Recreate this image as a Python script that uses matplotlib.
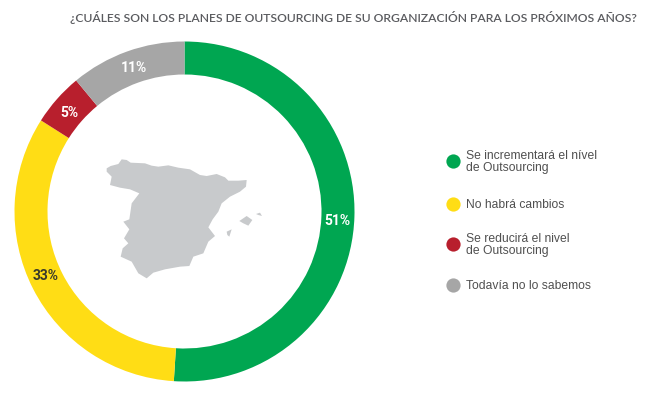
import matplotlib
matplotlib.use("Agg")
import matplotlib.pyplot as plt
from matplotlib.patches import Polygon

title = "¿CUÁLES SON LOS PLANES DE OUTSOURCING DE SU ORGANIZACIÓN PARA LOS PRÓXIMOS AÑOS?"
categories = ["Se incrementará el nível\nde Outsourcing", "No habrá cambios",
              "Se reducirá el nivel\nde Outsourcing", "Todavía no lo sabemos"]
values = [51, 33, 5, 11]
colors = ["#00A651", "#FFDD15", "#B81F2D", "#A6A6A6"]
label_colors = ["white", "#3a3a2a", "white", "white"]
label_nudge = [(0, 5), (-3, -5), (0, 3), (1, 0)]
legend_y = [161, 203.5, 244, 285]

# decorative map outline, in pixels of the zoomed reference
mainland = [(50,85),(62,78),(85,72),(95,58),(110,60),(122,68),(165,70),(185,77),(205,80),(235,76),
            (265,83),(300,88),(330,105),(350,108),(380,102),(405,112),(415,122),(445,122),(470,120),
            (468,140),(450,155),(420,170),(395,190),(385,215),(368,238),(355,262),(375,288),(355,305),
            (340,340),(310,350),(298,378),(270,380),(225,388),(190,398),(170,415),(145,400),(125,365),
            (92,350),(98,325),(115,310),(102,295),(118,268),(100,245),(118,238),(125,190),(148,160),
            (120,148),(90,143),(60,135),(65,110),(50,95)]
mallorca = [(448,243),(470,228),(487,240),(475,257),(460,250)]
menorca = [(498,222),(510,218),(516,228),(505,225)]
ibiza = [(410,275),(425,268),(418,290),(412,285)]

W, H = 666, 395

fig = plt.figure(figsize=(W/100, H/100), dpi=100, facecolor="white")

# overlay in pixel coordinates
ov = fig.add_axes([0, 0, 1, 1])
ov.set_xlim(0, W); ov.set_ylim(H, 0); ov.axis("off")

# ring
cx, cy, R = 184.5, 211.5, 170
ax = fig.add_axes([(cx-R)/W, 1-(cy+R)/H, 2*R/W, 2*R/H])
wedges, _, autotexts = ax.pie(values, colors=colors, startangle=90, counterclock=False, radius=1,
                              wedgeprops=dict(width=33/170, linewidth=0),
                              autopct=lambda p: f"{round(p)}%", pctdistance=0.9)
ax.set_xlim(-1, 1); ax.set_ylim(-1, 1)
for t, c, (dx, dy) in zip(autotexts, label_colors, label_nudge):
    t.set_color(c); t.set_fontfamily("Roboto"); t.set_fontsize(10); t.set_fontweight("bold")
    x, y = t.get_position()
    t.set_position((x + dx/R, y - dy/R))

# map
for poly in (mainland, mallorca, menorca, ibiza):
    pts = [(90 + x/3, 140 + y/3) for x, y in poly]
    ov.add_patch(Polygon(pts, closed=True, facecolor="#C8CACC", edgecolor="none"))

ov.text(70, 17.5, title, fontfamily="Lato", fontsize=8.75, fontweight="semibold", color="#5a5b5f",
        va="center", ha="left")

for lab, c, y in zip(categories, colors, legend_y):
    ov.scatter([453], [y], s=105, color=c, linewidths=0)
    ov.text(466, y + 1, lab, fontfamily="Liberation Sans", fontsize=8.75, color="#505050",
            va="center", ha="left", linespacing=1.08)

fig.savefig("out.png", dpi=100, facecolor="white")
